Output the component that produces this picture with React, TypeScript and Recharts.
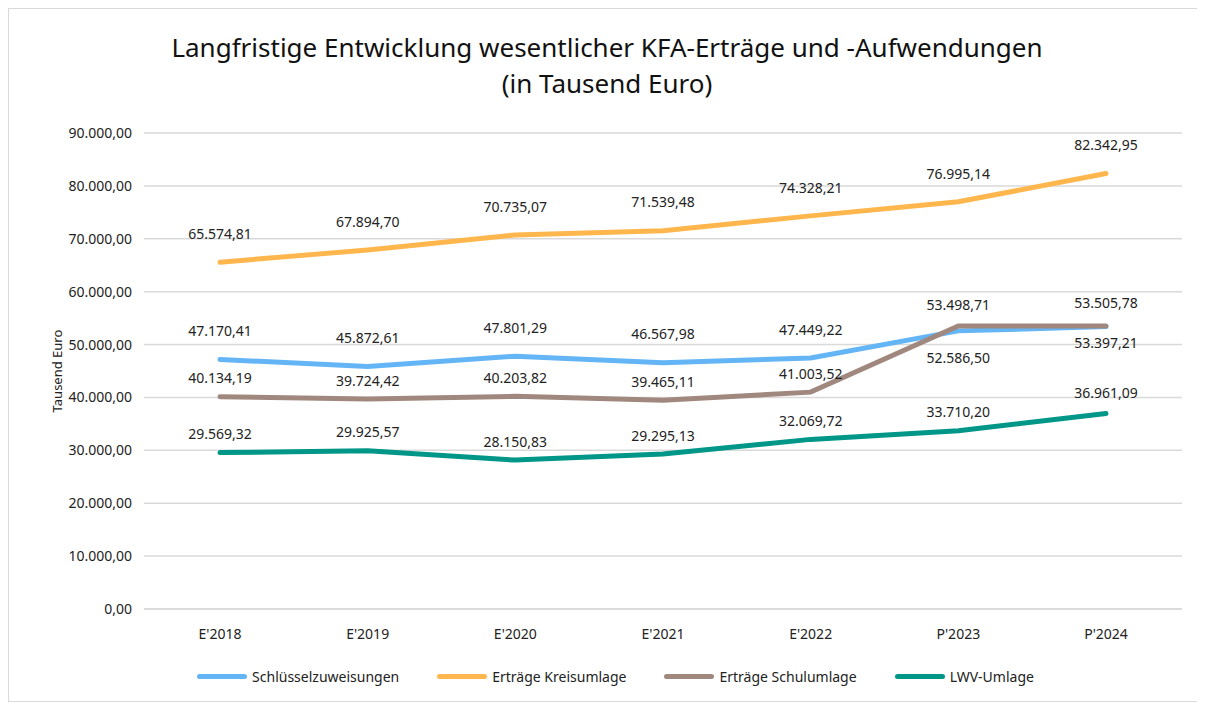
import { LineChart, Line, XAxis, YAxis, CartesianGrid, Legend } from "recharts";

const categories = ["E'2018", "E'2019", "E'2020", "E'2021", "E'2022", "P'2023", "P'2024"];

const schluesselzuweisungen = [47170.41, 45872.61, 47801.29, 46567.98, 47449.22, 52586.5, 53397.21];
const kreisumlage = [65574.81, 67894.7, 70735.07, 71539.48, 74328.21, 76995.14, 82342.95];
const schulumlage = [40134.19, 39724.42, 40203.82, 39465.11, 41003.52, 53498.71, 53505.78];
const lwvUmlage = [29569.32, 29925.57, 28150.83, 29295.13, 32069.72, 33710.2, 36961.09];

const yTicks = [0, 10000, 20000, 30000, 40000, 50000, 60000, 70000, 80000, 90000];

const FONT = "'Noto Sans', sans-serif";

const fmt = (v: number) => {
  const [int, dec] = v.toFixed(2).split(".");
  return int.replace(/\B(?=(\d{3})+(?!\d))/g, ".") + "," + dec;
};

const data = categories.map((c, i) => ({
  name: c,
  s: schluesselzuweisungen[i],
  k: kreisumlage[i],
  u: schulumlage[i],
  l: lwvUmlage[i],
}));

const series = [
  { key: "s", name: "Schlüsselzuweisungen", color: "#64B5F6", dy: [-27, -27, -27, -27, -27, 28, 18] },
  { key: "k", name: "Erträge Kreisumlage", color: "#FFB74D", dy: [-27, -27, -27, -27, -27, -27, -27] },
  { key: "u", name: "Erträge Schulumlage", color: "#A1887F", dy: [-17, -17, -17, -17, -17, -20, -22] },
  { key: "l", name: "LWV-Umlage", color: "#009688", dy: [-17, -17, -17, -17, -17, -17, -19] },
];

const makeLabel = (dy: number[]) => (props: any) => {
  const { x, y, value, index } = props;
  return (
    <text
      x={x}
      y={y + dy[index]}
      textAnchor="middle"
      dominantBaseline="middle"
      fontFamily={FONT}
      fontSize={14}
      fill="#222"
    >
      {fmt(value)}
    </text>
  );
};

const LegendContent = () => (
  <div style={{ display: "flex", justifyContent: "center", gap: 38, fontFamily: FONT, fontSize: 14, color: "#222" }}>
    {series.map((s) => (
      <div key={s.key} style={{ display: "flex", alignItems: "center" }}>
        <span style={{ display: "inline-block", width: 50, height: 5, borderRadius: 3, background: s.color, marginRight: 5 }} />
        {s.name}
      </div>
    ))}
  </div>
);

export default function App() {
  return (
    <div
      style={{
        position: "relative",
        width: 1190,
        height: 694,
        boxSizing: "border-box",
        border: "1.5px solid #d9d9d9",
        fontFamily: FONT,
        background: "#fff",
      }}
    >
      <div
        style={{
          position: "absolute",
          top: 20,
          left: 4,
          width: "100%",
          textAlign: "center",
          fontSize: 26,
          lineHeight: "36px",
          color: "#111",
        }}
      >
        Langfristige Entwicklung wesentlicher KFA-Erträge und -Aufwendungen
        <br />
        (in Tausend Euro)
      </div>
      <LineChart
        width={1187}
        height={691}
        data={data}
        margin={{ top: 124, right: 14, bottom: 42, left: 40 }}
      >
        <CartesianGrid vertical={false} stroke="#d9d9d9" strokeWidth={1.5} />
        <XAxis
          dataKey="name"
          padding={{ left: 76, right: 76 }}
          axisLine={{ stroke: "#d9d9d9", strokeWidth: 1.5 }}
          tickLine={false}
          tickMargin={14}
          height={30}
          tick={{ fontFamily: FONT, fontSize: 14, fill: "#222" }}
        />
        <YAxis
          domain={[0, 90000]}
          ticks={yTicks}
          width={95}
          axisLine={false}
          tickLine={false}
          tickSize={0}
          tickMargin={12}
          tickFormatter={fmt}
          tick={{ fontFamily: FONT, fontSize: 14, fill: "#222" }}
          label={{
            value: "Tausend Euro",
            angle: -90,
            position: "insideLeft",
            offset: 8,
            style: { textAnchor: "middle", fontFamily: FONT, fontSize: 13, fill: "#222" },
          }}
        />
        <Legend verticalAlign="bottom" content={<LegendContent />} wrapperStyle={{ bottom: 14 }} />
        {series.map((s) => (
          <Line
            key={s.key}
            dataKey={s.key}
            name={s.name}
            stroke={s.color}
            strokeWidth={5}
            strokeLinecap="round"
            dot={false}
            activeDot={false}
            isAnimationActive={false}
            label={makeLabel(s.dy)}
          />
        ))}
      </LineChart>
    </div>
  );
}
